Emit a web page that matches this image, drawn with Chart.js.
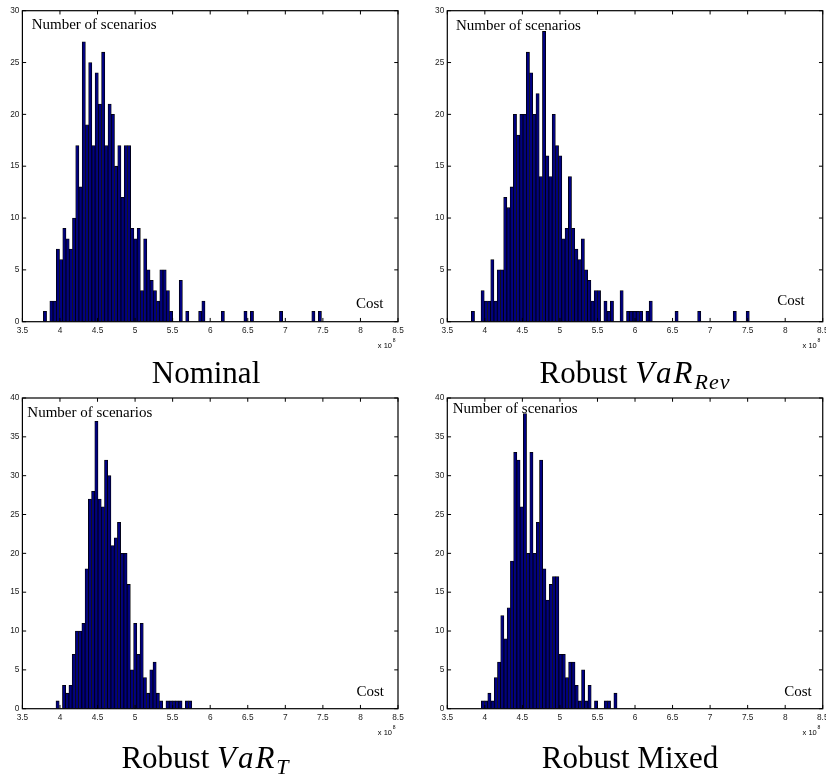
<!DOCTYPE html>
<html>
<head>
<meta charset="utf-8">
<script src="https://cdn.jsdelivr.net/npm/chart.js@4.4.1/dist/chart.umd.min.js"></script>
<style>
  html, body { margin: 0; padding: 0; background: #fff; width: 826px; height: 778px; overflow: hidden; }
  .q { position: absolute; }
  canvas { display: block; }
</style>
</head>
<body>
<div class="q" style="left:0;top:0"><canvas id="c1" width="413" height="389"></canvas></div>
<div class="q" style="left:413px;top:0"><canvas id="c2" width="420" height="389"></canvas></div>
<div class="q" style="left:0;top:389px"><canvas id="c3" width="413" height="389"></canvas></div>
<div class="q" style="left:413px;top:389px"><canvas id="c4" width="420" height="389"></canvas></div>

<script>
// tick labels
const xTicks = [3.5, 4, 4.5, 5, 5.5, 6, 6.5, 7, 7.5, 8, 8.5];
const yTicksTop = [0, 5, 10, 15, 20, 25, 30];
const yTicksBottom = [0, 5, 10, 15, 20, 25, 30, 35, 40];

// histogram bins (cost x 10^8): first bin edge and bin width, counts
const nominalStart = 3.779, nominalWidth = 0.04305;
const nominalCounts = [
  1, 0, 2, 2, 7, 6, 9, 8, 7, 10, 17, 13, 27, 19, 25, 17, 24, 21, 26, 17,
  21, 20, 15, 17, 12, 17, 17, 9, 8, 9, 3, 8, 5, 4, 3, 2, 5, 5, 3, 1,
  0, 0, 4, 0, 1, 0, 0, 0, 1, 2, 0, 0, 0, 0, 0, 1, 0, 0, 0, 0,
  0, 0, 1, 0, 1, 0, 0, 0, 0, 0, 0, 0, 0, 1, 0, 0, 0, 0, 0, 0,
  0, 0, 0, 1, 0, 1
];

const revStart = 3.820, revWidth = 0.04305;
const revCounts = [
  1, 0, 0, 3, 2, 2, 6, 2, 5, 5, 12, 11, 13, 20, 18, 20, 20, 26, 24, 20,
  22, 14, 28, 16, 14, 20, 17, 16, 8, 9, 14, 9, 7, 6, 8, 5, 4, 2, 3, 3,
  0, 2, 1, 2, 0, 0, 3, 0, 1, 1, 1, 1, 1, 0, 1, 2, 0, 0, 0, 0,
  0, 0, 0, 1, 0, 0, 0, 0, 0, 0, 1, 0, 0, 0, 0, 0, 0, 0, 0, 0,
  0, 1, 0, 0, 0, 1
];

const varTStart = 3.947, varTWidth = 0.04305;
const varTCounts = [
  1, 0, 3, 2, 3, 7, 10, 10, 11, 18, 27, 28, 37, 27, 26, 32, 30, 21, 22, 24,
  20, 20, 16, 5, 11, 7, 11, 4, 2, 5, 6, 2, 1, 0, 1, 1, 1, 1, 1, 0,
  1, 1
];

const mixedStart = 3.953, mixedWidth = 0.04305;
const mixedCounts = [
  1, 1, 2, 1, 4, 6, 12, 9, 13, 19, 33, 32, 26, 38, 20, 33, 20, 24, 32, 18,
  14, 16, 17, 17, 7, 7, 4, 6, 6, 3, 1, 5, 1, 3, 0, 1, 0, 0, 1, 1,
  0, 2
];

const SERIF = '"Liberation Serif", "Times New Roman", serif';
const SANS = '"Liberation Sans", Arial, sans-serif';
const TICK_LEN = 3.75;

function drawRich(ctx, parts, cx, baseline) {
  let total = 0;
  parts.forEach(p => {
    ctx.font = p.font;
    for (const ch of p.text) total += ctx.measureText(ch).width + (p.ls || 0);
  });
  let x = cx - total / 2;
  ctx.textAlign = "left";
  parts.forEach(p => {
    ctx.font = p.font;
    for (const ch of p.text) {
      ctx.fillText(ch, x, baseline + (p.dy || 0));
      x += ctx.measureText(ch).width + (p.ls || 0);
    }
  });
}

const matlabFrame = {
  id: "matlabFrame",
  afterDraw(chart, args, o) {
    const { ctx, chartArea: a } = chart;
    const xs = chart.scales.x, ys = chart.scales.y;
    ctx.save();
    ctx.strokeStyle = "#000";
    ctx.lineWidth = 1.2;
    ctx.strokeRect(a.left, a.top, a.right - a.left, a.bottom - a.top);

    // inward ticks on all four sides
    ctx.lineWidth = 1;
    ctx.beginPath();
    xs.ticks.forEach(t => {
      const px = xs.getPixelForValue(t.value);
      ctx.moveTo(px, a.bottom); ctx.lineTo(px, a.bottom - TICK_LEN);
      ctx.moveTo(px, a.top); ctx.lineTo(px, a.top + TICK_LEN);
    });
    ys.ticks.forEach(t => {
      const py = ys.getPixelForValue(t.value);
      ctx.moveTo(a.left, py); ctx.lineTo(a.left + TICK_LEN, py);
      ctx.moveTo(a.right, py); ctx.lineTo(a.right - TICK_LEN, py);
    });
    ctx.stroke();

    ctx.fillStyle = "#000";
    ctx.textBaseline = "alphabetic";

    ctx.font = "15px " + SERIF;
    ctx.textAlign = "left";
    ctx.fillText("Number of scenarios", a.left + o.ylab[0], a.top + o.ylab[1]);
    ctx.textAlign = "right";
    ctx.fillText("Cost", a.right + o.cost[0], a.bottom + o.cost[1]);

    // exponent x 10^8
    ctx.font = "7.5px " + SANS;
    const ex = a.right - 6, eb = a.bottom + 26;
    ctx.textAlign = "right";
    ctx.fillText("x 10", ex, eb);
    ctx.textAlign = "left";
    ctx.font = "5px " + SANS;
    ctx.fillText("8", ex + 0.8, eb - 5.5);

    drawRich(ctx, o.title, o.titlePos[0], o.titlePos[1]);
    ctx.restore();
  }
};

function makePanel(id, start, width, counts, yTicks, yMax, box, frame) {
  const data = counts.map((c, i) => ({ x: start + (i + 0.5) * width, y: c }));
  const canvas = document.getElementById(id);
  return new Chart(canvas.getContext("2d"), {
    type: "bar",
    data: {
      datasets: [{
        data,
        backgroundColor: "#000080",
        borderColor: "#000000",
        borderWidth: 0.8,
        borderSkipped: "start",
        barPercentage: 1,
        categoryPercentage: 1
      }]
    },
    options: {
      responsive: false,
      animation: false,
      devicePixelRatio: 1,
      layout: { padding: { left: 0, top: box.top, right: canvas.width - box.right, bottom: 0 } },
      plugins: { legend: { display: false }, tooltip: { enabled: false }, matlabFrame: frame },
      scales: {
        x: {
          type: "linear",
          min: 3.5, max: 8.5,
          offset: false,
          grid: { display: false, drawTicks: false },
          border: { display: false },
          afterBuildTicks: s => { s.ticks = xTicks.map(v => ({ value: v })); },
          afterFit: s => { s.height = canvas.height - box.bottom; },
          ticks: {
            padding: 4.5, maxRotation: 0, autoSkip: false, color: "#222",
            font: { family: SANS, size: 8.3 },
            callback: v => String(+v.toFixed(2))
          }
        },
        y: {
          min: 0, max: yMax,
          grid: { display: false, drawTicks: false },
          border: { display: false },
          afterBuildTicks: s => { s.ticks = yTicks.map(v => ({ value: v })); },
          afterFit: s => { s.width = box.left; },
          ticks: { padding: 3, color: "#222", font: { family: SANS, size: 8.3 } }
        }
      }
    },
    plugins: [matlabFrame]
  });
}

const T = 31, S = 22;
makePanel("c1", nominalStart, nominalWidth, nominalCounts, yTicksTop, 30,
  { left: 22.4, top: 10.7, right: 398, bottom: 321.7 },
  { ylab: [9.3, 18.6], cost: [-14.5, -13.4],
    title: [{ text: "Nominal", font: T + "px " + SERIF }], titlePos: [206, 383] });

makePanel("c2", revStart, revWidth, revCounts, yTicksTop, 30,
  { left: 34.3, top: 10.7, right: 409.9, bottom: 321.7 },
  { ylab: [8.7, 19.3], cost: [-18, -16.5],
    title: [
      { text: "Robust ", font: T + "px " + SERIF },
      { text: "VaR", font: "italic " + T + "px " + SERIF, ls: 2 },
      { text: "Rev", font: "italic " + S + "px " + SERIF, dy: 6, ls: 1 }
    ], titlePos: [222, 383] });

makePanel("c3", varTStart, varTWidth, varTCounts, yTicksBottom, 40,
  { left: 22.4, top: 9, right: 398, bottom: 319.7 },
  { ylab: [4.9, 19], cost: [-14, -12.5],
    title: [
      { text: "Robust ", font: T + "px " + SERIF },
      { text: "VaR", font: "italic " + T + "px " + SERIF, ls: 2 },
      { text: "T", font: "italic " + S + "px " + SERIF, dy: 6 }
    ], titlePos: [205, 379] });

makePanel("c4", mixedStart, mixedWidth, mixedCounts, yTicksBottom, 40,
  { left: 34.3, top: 9, right: 409.9, bottom: 319.7 },
  { ylab: [5.4, 15.3], cost: [-11, -12.5],
    title: [{ text: "Robust Mixed", font: T + "px " + SERIF }], titlePos: [217, 379] });
</script>
</body>
</html>
